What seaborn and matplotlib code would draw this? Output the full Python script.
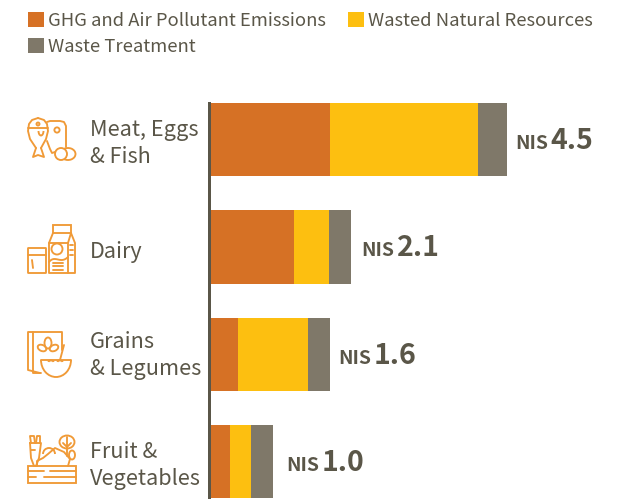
import numpy as np
import pandas as pd
import matplotlib
matplotlib.use("Agg")
import matplotlib.pyplot as plt
from matplotlib.patches import Circle, Ellipse, Arc, FancyBboxPatch
from matplotlib.transforms import ScaledTranslation
import seaborn as sns

# ---- data ----
categories = ["Meat, Eggs\n& Fish", "Dairy", "Grains\n& Legumes", "Fruit &\nVegetables"]
ghg = [1.81, 1.26, 0.41, 0.29]
resources = [2.25, 0.53, 1.06, 0.32]
treatment = [0.44, 0.34, 0.34, 0.33]
value_labels = ["4.5", "2.1", "1.6", "1.0"]
series_names = ["GHG and Air Pollutant Emissions", "Wasted Natural Resources", "Waste Treatment"]

ORANGE, YELLOW, GREY = "#D67125", "#FDBF10", "#7F7869"
TEXT = "#5A5648"
ICON = "#F09A37"
W, H = 629, 499

sns.set_theme(style="white")
plt.rcParams["font.family"] = ["Noto Sans CJK SC", "DejaVu Sans"]

fig = plt.figure(figsize=(W / 100, H / 100), dpi=100, facecolor="white")
ax = fig.add_axes([209.0 / W, 0, (W - 209.0) / W, (H - 103) / H])

px_per_unit = 65.8
row_px = 107.3
df = pd.DataFrame({"category": categories, "ghg": ghg, "res": resources, "tr": treatment})
left_res = df["ghg"].to_numpy()
left_tr = left_res + df["res"].to_numpy()
order = categories
common = dict(data=df, y="category", order=order, orient="y", width=0.68, saturation=1, ax=ax, linewidth=0)
sns.barplot(x="ghg", color=ORANGE, label=series_names[0], **common)
sns.barplot(x="res", left=left_res, color=YELLOW, label=series_names[1], **common)
sns.barplot(x="tr", left=left_tr, color=GREY, label=series_names[2], **common)

ax.set_xlim(-2.0 / px_per_unit, (W - 209.0 - 2.0) / px_per_unit)
ax.set_ylim((H - 140.0) / row_px, -36.5 / row_px)
ax.set_xlabel("")
ax.set_ylabel("")
ax.set_xticks([])
for s in ("top", "right", "bottom"):
    ax.spines[s].set_visible(False)
ax.spines["left"].set_color(TEXT)
ax.spines["left"].set_linewidth(3 * 0.72)
ax.patch.set_alpha(0)

ax.tick_params(axis="y", length=0, pad=119 * 0.72)
label_shift_px = [1, -3, 4, 1.5]
for lab, sh in zip(ax.get_yticklabels(), label_shift_px):
    lab.set_ha("left")
    lab.set_multialignment("left")
    lab.set_color(TEXT)
    lab.set_fontsize(15.6)
    lab.set_linespacing(1.3)
    lab.set_transform(lab.get_transform() + ScaledTranslation(0, sh / 100, fig.dpi_scale_trans))

# value labels
totals = left_tr + df["tr"].to_numpy()
nudges = [8, 10, 8, 13]
for i, (t, v, n) in enumerate(zip(totals, value_labels, nudges)):
    dx = n * 0.72
    ax.annotate("NIS", (t, i), xytext=(dx, -9.5 * 0.72), textcoords="offset points", ha="left",
                va="baseline", fontsize=14.0, fontweight="bold", color=TEXT, annotation_clip=False)
    ax.annotate(v, (t, i), xytext=(dx + 35.5 * 0.72, -9.5 * 0.72), textcoords="offset points", ha="left",
                va="baseline", fontsize=20.5, fontweight="bold", color=TEXT, annotation_clip=False)

# legend
handles, labels = ax.get_legend_handles_labels()
if ax.get_legend() is not None:
    ax.get_legend().remove()
h = dict(zip(labels, handles))
ordered = [series_names[0], series_names[2], series_names[1]]
fig.legend([h[k] for k in ordered], ordered, ncols=2, loc="upper left",
           bbox_to_anchor=(28 / W, 1 - 12 / H), frameon=False, borderpad=0, borderaxespad=0,
           fontsize=13.25, handlelength=0.87, handleheight=0.87, handletextpad=0.22,
           columnspacing=1.2, labelspacing=0.42, labelcolor=TEXT)

# decorative line-art icons, in figure pixels
ic = fig.add_axes([0, 0, 1, 1])
ic.set_xlim(0, W)
ic.set_ylim(H, 0)
ic.axis("off")
ic.patch.set_alpha(0)
LW = 1.35
kw = dict(color=ICON, lw=LW, solid_capstyle="round", solid_joinstyle="round")


def line(*pts):
    xs, ys = zip(*pts)
    ic.plot(xs, ys, **kw)


def curve(*pts):
    # smooth decorative stroke through a few anchor points
    p = np.array(pts, float)
    t = np.arange(len(p))
    tt = np.linspace(0, len(p) - 1, 40)
    deg = min(3, len(p) - 1)
    ic.plot(np.polyval(np.polyfit(t, p[:, 0], deg), tt), np.polyval(np.polyfit(t, p[:, 1], deg), tt), **kw)


def circ(x, y, r):
    ic.add_patch(Circle((x, y), r, fill=False, ec=ICON, lw=LW))


def ell(x, y, w, h_, a=0):
    ic.add_patch(Ellipse((x, y), w, h_, angle=a, fill=False, ec=ICON, lw=LW))


def arc(x, y, w, h_, t1, t2):
    ic.add_patch(Arc((x, y), w, h_, theta1=t1, theta2=t2, ec=ICON, lw=LW))


def rrect(x0, y0, x1, y1, r=0.0):
    ic.add_patch(FancyBboxPatch((x0, y0), x1 - x0, y1 - y0, boxstyle=f"round,pad=0,rounding_size={r}",
                                fill=False, ec=ICON, lw=LW))


# fish, board, eggs
line((38, 118), (44, 120), (47, 124), (48, 131), (46, 139), (41, 148))
line((38, 118), (32, 120), (29, 124), (28, 131), (30, 139), (36, 148))
line((28, 128), (48, 128))
circ(38, 124, 1.5)
arc(41, 131, 5, 9, 0, 180)
line((36, 148), (33, 157), (38, 155), (44, 157), (41, 148))
line((47, 122), (50, 121), (60, 121), (64, 122), (66, 126), (66, 147))
circ(57, 130, 2.6)
line((47, 141), (50, 149), (52, 153), (55, 152))
circ(61, 154, 6)
arc(68, 154, 15, 12, -130, 130)

# milk and glass
rrect(28, 248, 46, 273, 0.5)
line((28, 255), (46, 255))
line((32, 260), (33, 268))
rrect(53, 225, 71, 233)
line((53, 233), (49, 243), (49, 273), (75, 273), (75, 243), (71, 233))
line((49, 243), (68, 243), (71, 233))
line((68, 243), (68, 273))
circ(57, 249, 5.5)
curve((49, 262), (55, 259), (61, 260), (68, 257))
for y in (245, 250, 255):
    line((70, y), (73, y))
for y in (263, 266, 270):
    line((53, y), (63, y))

# cereal box and bowl
line((40, 373), (28, 370), (28, 332), (62, 332), (62, 350))
line((33, 332), (33, 373), (41, 373))
ell(48, 343, 7, 11)
ell(42, 348, 9, 6, 25)
ell(54, 348, 9, 6, -25)
line((64, 345), (60, 360))
line((41, 360), (71, 360))
arc(56, 360, 30, 34, 0, 180)
arc(51, 362, 5, 3, 180, 360)
arc(60, 362, 5, 3, 180, 360)

# crate and vegetables
rrect(28, 466, 76, 483)
line((28, 471), (44, 471))
line((50, 471), (76, 471))
line((28, 477), (36, 477))
line((44, 477), (76, 477))
line((30, 443), (41, 443), (39, 458), (36, 466), (34, 466), (31, 458), (30, 443))
line((31, 443), (30, 436), (34, 436), (35, 443))
line((36, 443), (37, 436), (40, 436), (40, 443))
line((31, 450), (35, 450))
arc(49, 454, 12, 12, 180, 360)
line((37, 466), (37, 461), (43, 458), (48, 454), (55, 448), (64, 452), (70, 459), (68, 466))
ell(67, 442, 15, 13)
line((67, 437), (67, 456))
line((67, 447), (71, 443))
line((67, 447), (63, 443))
ell(72, 455, 6, 9)

fig.savefig("out.png", dpi=100)
